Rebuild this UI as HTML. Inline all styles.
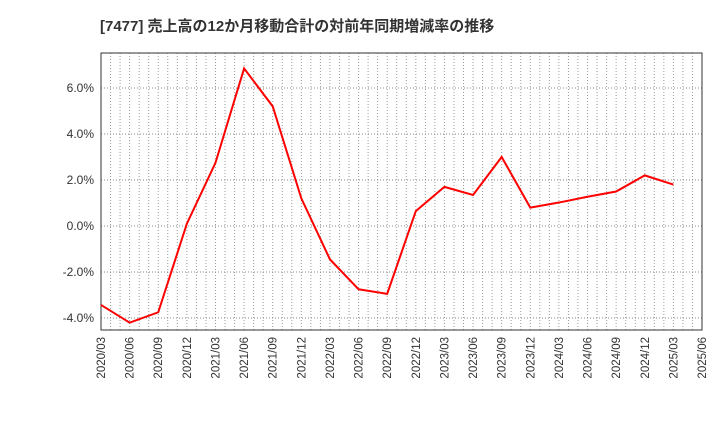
<!DOCTYPE html>
<html><head><meta charset="utf-8"><style>
body{margin:0;background:#fff;width:720px;height:440px;overflow:hidden}
svg{font-family:"Liberation Sans","Noto Sans CJK JP",sans-serif}
</style></head><body>
<svg id="chart" width="720" height="440">
<text x="100" y="31" font-size="15" font-weight="bold" fill="#333">[7477]  売上高の12か月移動合計の対前年同期増減率の推移</text>
<g id="grid"></g><g id="axes"></g><g id="series"></g>
</svg>
<script>
const categories=["2020/03","2020/06","2020/09","2020/12","2021/03","2021/06","2021/09","2021/12","2022/03","2022/06","2022/09","2022/12","2023/03","2023/06","2023/09","2023/12","2024/03","2024/06","2024/09","2024/12","2025/03","2025/06"];
const values=[-3.43,-4.2,-3.75,0.1,2.75,6.85,5.2,1.2,-1.45,-2.75,-2.95,0.65,1.7,1.35,3.0,0.8,1.02,1.27,1.5,2.2,1.8];
const yTicks=[-4,-2,0,2,4,6];
const yTickLabels=["-4.0%","-2.0%","0.0%","2.0%","4.0%","6.0%"];
const L=101,R=702,T=53,B=330,yMin=-4.52,yMax=7.52;
const NS="http://www.w3.org/2000/svg";
const xs=i=>L+(R-L)*i/(categories.length-1);
const ys=v=>B-(v-yMin)/(yMax-yMin)*(B-T);
function mk(p,t,a){const e=document.createElementNS(NS,t);for(const k in a)e.setAttribute(k,a[k]);p.appendChild(e);return e;}
const grid=document.getElementById('grid'),axes=document.getElementById('axes'),ser=document.getElementById('series');
const n=(categories.length-1)*3;
for(let j=1;j<n;j++){const x=L+(R-L)*j/n;
const l=mk(grid,'line',{x1:x,x2:x,y1:T,y2:B,stroke:'#999','stroke-dasharray':'1,2'});

}
yTicks.forEach((v,i)=>{const y=ys(v);
const l=mk(grid,'line',{x1:L,x2:R,y1:y,y2:y,stroke:'#888','stroke-dasharray':'1,2'});


const t=mk(axes,'text',{x:L-7,y:y+4,'text-anchor':'end','font-size':12,fill:'#333'});t.textContent=yTickLabels[i];

});
categories.forEach((c,i)=>{const x=xs(i);
const t=mk(axes,'text',{x:0,y:0,'text-anchor':'end','font-size':11.5,fill:'#333',transform:`translate(${x+4},${B+7}) rotate(-90)`});t.textContent=c;

});
const fr=mk(axes,'rect',{x:L,y:T,width:R-L,height:B-T,fill:'none',stroke:'#333'});


const pl=mk(ser,'polyline',{points:values.map((v,i)=>xs(i)+','+ys(v)).join(' '),fill:'none',stroke:'#f00','stroke-width':2});


</script>
</body></html>
